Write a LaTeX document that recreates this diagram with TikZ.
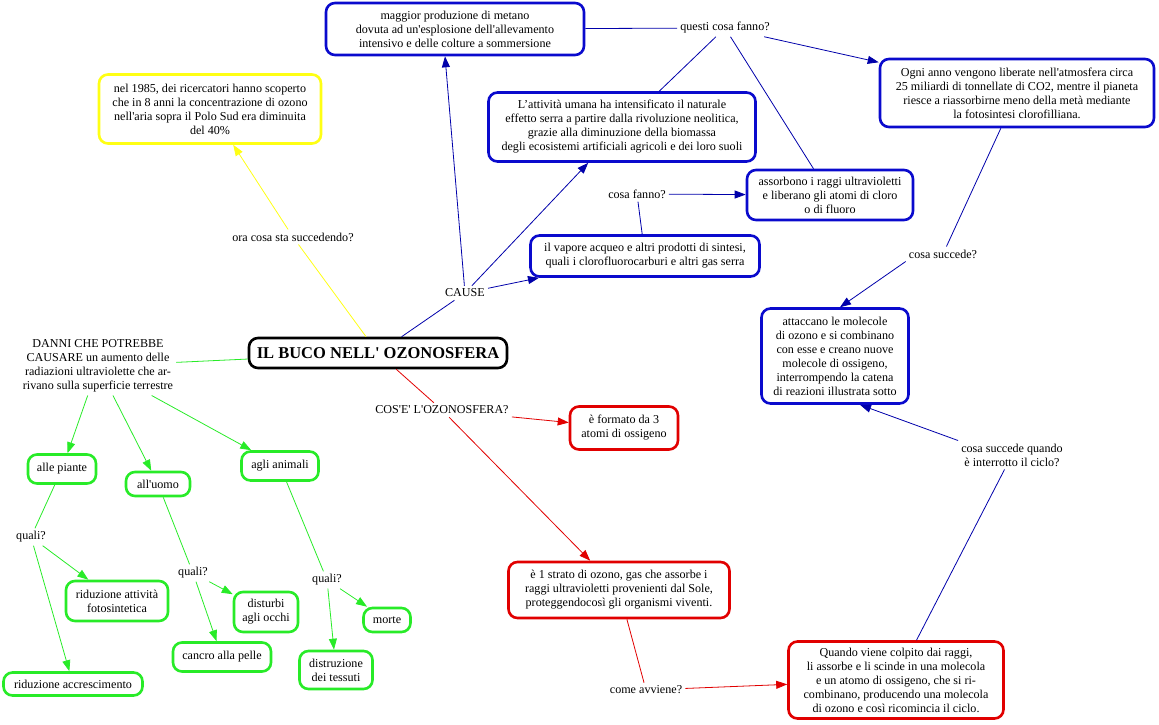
\documentclass[tikz,border=0pt]{standalone}
\usepackage{fontspec}
\setmainfont{Liberation Serif}[Ligatures=TeXOff]
\usepackage{tikz}
\usetikzlibrary{arrows.meta, positioning}
\definecolor{cblu}{RGB}{10,10,205}
\definecolor{lblu}{RGB}{0,0,170}
\definecolor{cros}{RGB}{225,0,0}
\definecolor{cver}{RGB}{40,235,40}
\definecolor{cgia}{RGB}{255,255,20}
\newcommand{\mapfont}{\fontsize{12.1}{14}\selectfont}
\tikzset{
  conc/.style={rectangle, rounded corners=9pt, line width=2.6pt, fill=white,
               align=center, inner sep=1pt, font=\mapfont},
  blu/.style={conc, draw=cblu},
  ros/.style={conc, draw=cros},
  ver/.style={conc, draw=cver},
  gia/.style={conc, draw=cgia},
  sz/.style 2 args={minimum width=#1pt, minimum height=#2pt},
  frase/.style={align=center, inner sep=3pt, font=\mapfont},
  lin/.style={line width=0.8pt},
  arc/.style={lin, -{Triangle[length=11pt, width=8pt]}}
}

\begin{document}
\begin{tikzpicture}[x=1pt, y=-1pt]
    \useasboundingbox (0,0) rectangle (1159,724);
    \node[conc, draw=black, sz={258}{30}, font=\fontsize{16.5}{18}\selectfont\bfseries] (c) at (378,353) {IL BUCO NELL' OZONOSFERA};

    \node[gia, sz={222}{69}] (y) at (210,109) {nel 1985, dei ricercatori hanno scoperto\\che in 8 anni la concentrazione di ozono\\nell'aria sopra il Polo Sud era diminuita\\del 40\%};
    \node[frase] (ora) at (293,237) {ora cosa sta succedendo?};

    \node[frase] (cause) at (465,293) {CAUSE};
    \node[blu, sz={258}{52}] (m) at (455,29) {maggior produzione di metano\\dovuta ad un'esplosione dell'allevamento\\intensivo e delle colture a sommersione};
    \node[blu, sz={267}{69}] (u) at (622,127) {L’attività umana ha intensificato il naturale\\effetto serra a partire dalla rivoluzione neolitica,\\grazie alla diminuzione della biomassa\\degli ecosistemi artificiali agricoli e dei loro suoli};
    \node[blu, sz={229}{41}] (v) at (645,256) {il vapore acqueo e altri prodotti di sintesi,\\quali i clorofluorocarburi e altri gas serra};
    \node[frase] (qf) at (725,28) {questi cosa fanno?};
    \node[frase] (cf) at (637,194) {cosa fanno?};
    \node[blu, sz={274}{68}] (o) at (1017,93) {Ogni anno vengono liberate nell'atmosfera circa\\25 miliardi di tonnellate di CO2, mentre il pianeta\\riesce a riassorbirne meno della metà mediante\\la fotosintesi clorofilliana.};
    \node[blu, sz={166}{50}] (a) at (830,195) {assorbono i raggi ultravioletti\\e liberano gli atomi di cloro\\o di fluoro};
    \node[frase] (cs) at (943,254) {cosa succede?};
    \node[blu, sz={147}{95}] (k) at (835,356) {attaccano le molecole\\di ozono e si combinano\\con esse e creano nuove\\molecole di ossigeno,\\interrompendo la catena\\di reazioni illustrata sotto};
    \node[frase] (cq) at (1012,455) {cosa succede quando\\è interrotto il ciclo?};

    \node[frase] (ce) at (442,410) {COS'E' L'OZONOSFERA?};
    \node[ros, sz={108}{43}] (f) at (624,428) {è formato da 3\\atomi di ossigeno};
    \node[ros, sz={221}{56}] (s) at (619,590) {è 1 strato di ozono, gas che assorbe i\\raggi ultravioletti provenienti dal Sole,\\proteggendocosì gli organismi viventi.};
    \node[frase] (ca) at (646,690) {come avviene?};
    \node[ros, sz={215}{77}] (q) at (896,680) {Quando viene colpito dai raggi,\\li assorbe e li scinde in una molecola\\e un atomo di ossigeno, che si ri-\\combinano, producendo una molecola\\di ozono e così ricomincia il ciclo.};

    \node[frase] (d) at (98,366) {DANNI CHE POTREBBE\\CAUSARE un aumento delle\\radiazioni ultraviolette che ar-\\rivano sulla superficie terrestre};
    \node[ver, sz={68}{29}] (pi) at (62,469) {alle piante};
    \node[ver, sz={64}{24}] (uo) at (158,484) {all'uomo};
    \node[ver, sz={77}{29}] (an) at (280,466) {agli animali};
    \node[frase] (q1) at (31,537) {quali?};
    \node[frase] (q2) at (193,573) {quali?};
    \node[frase] (q3) at (327,580) {quali?};
    \node[ver, sz={102}{40}] (rf) at (117,601) {riduzione attività\\fotosintetica};
    \node[ver, sz={139}{23}] (ra) at (73,684) {riduzione accrescimento};
    \node[ver, sz={64}{40}] (do) at (266,612) {disturbi\\agli occhi};
    \node[ver, sz={98}{29}] (cp) at (222,657) {cancro alla pelle};
    \node[ver, sz={47}{24}] (mo) at (387,620) {morte};
    \node[ver, sz={73}{38}] (dt) at (336,670) {distruzione\\dei tessuti};

    \draw[lin, cgia] (c) -- (ora);
    \draw[arc, cgia] (ora) -- (y);

    \draw[lin, lblu] (c) -- (cause);
    \draw[arc, lblu] (cause) -- ([xshift=-10pt]m.south);
    \draw[arc, lblu] (cause) -- (u);
    \draw[arc, lblu] (cause) -- (v);
    \draw[lin, lblu] (m) -- (qf);
    \draw[lin, lblu] (u) -- (qf);
    \draw[lin, lblu] (qf) -- (a);
    \draw[arc, lblu] (qf) -- (o);
    \draw[lin, lblu] (v) -- (cf);
    \draw[arc, lblu] (cf) -- (a);
    \draw[lin, lblu] (o) -- (cs);
    \draw[arc, lblu] (cs.south west) -- ([xshift=5pt]k.north);
    \draw[lin, lblu] (q) -- (cq);
    \draw[arc, lblu] (cq.north west) -- ([xshift=25pt]k.south);

    \draw[lin, cros] (c) -- (ce);
    \draw[arc, cros] (ce) -- (f);
    \draw[arc, cros] (ce) -- (s);
    \draw[lin, cros] (s) -- (ca);
    \draw[arc, cros] (ca) -- (q);

    \draw[lin, cver] (c) -- (d);
    \draw[arc, cver] (d) -- (pi);
    \draw[arc, cver] (d) -- (uo);
    \draw[arc, cver] (d) -- (an);
    \draw[lin, cver] (pi) -- (q1);
    \draw[arc, cver] (q1) -- (rf);
    \draw[arc, cver] (q1) -- (ra);
    \draw[lin, cver] (uo) -- (q2);
    \draw[arc, cver] (q2) -- (do);
    \draw[arc, cver] (q2) -- (cp);
    \draw[lin, cver] (an) -- (q3);
    \draw[arc, cver] (q3) -- (mo);
    \draw[arc, cver] (q3) -- (dt);
  \end{tikzpicture}
\end{document}
